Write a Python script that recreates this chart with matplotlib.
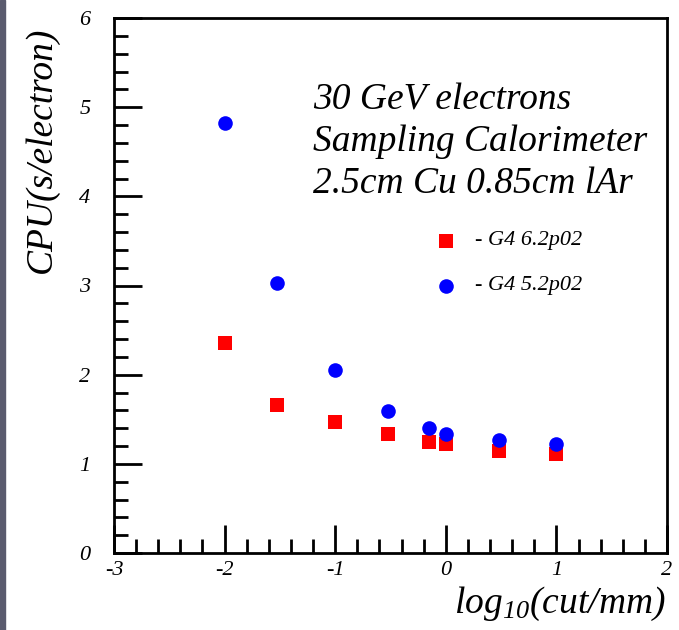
import numpy as np
import matplotlib
matplotlib.use('Agg')
from matplotlib import pyplot as plt
from matplotlib.patches import Rectangle
from matplotlib.ticker import MultipleLocator

# log10(cut/mm)
log_cut = [-2.0, -1.523, -1.0, -0.523, -0.155, 0.0, 0.477, 1.0]
cpu_g4_62 = [2.35, 1.66, 1.47, 1.33, 1.24, 1.22, 1.14, 1.11]
cpu_g4_52 = [4.82, 3.03, 2.05, 1.59, 1.40, 1.33, 1.27, 1.22]

plt.rcParams['font.family'] = ['Liberation Serif', 'DejaVu Serif']
plt.rcParams['axes.unicode_minus'] = False
plt.rcParams['mathtext.fontset'] = 'custom'
plt.rcParams['mathtext.it'] = 'Liberation Serif:italic'
plt.rcParams['mathtext.rm'] = 'Liberation Serif:italic'

fig = plt.figure(figsize=(6.79, 6.30), dpi=100)
ax = fig.add_axes([114/679, 1-553/630, (667-114)/679, (553-18)/630])

# grey strip at the left edge of the screenshot
fig.patches.append(Rectangle((0, 0), 5/679, 1, transform=fig.transFigure,
                             color='#5a5b6e', zorder=0))

ax.plot(log_cut, cpu_g4_62, 's', color='red', markersize=10, markeredgewidth=0)
ax.plot(log_cut, cpu_g4_52, 'o', color='blue', markersize=10.5, markeredgewidth=0)

ax.set_xlim(-3, 2)
ax.set_ylim(0, 6)
ax.xaxis.set_major_locator(MultipleLocator(1))
ax.xaxis.set_minor_locator(MultipleLocator(0.2))
ax.yaxis.set_major_locator(MultipleLocator(1))
ax.yaxis.set_minor_locator(MultipleLocator(0.2))
ax.tick_params(which='major', direction='in', length=20, width=2, top=False, right=False)
ax.tick_params(which='minor', direction='in', length=10, width=2, top=False, right=False)
ax.tick_params(axis='x', pad=6)
ax.tick_params(axis='y', pad=17)
for lab in ax.get_xticklabels() + ax.get_yticklabels():
    lab.set_fontstyle('italic')
    lab.set_fontsize(16)
for s in ax.spines.values():
    s.set_linewidth(2)

fig.text(42/679, 1-150/630, 'CPU(s/electron)', rotation=90, fontsize=27,
         fontstyle='italic', ha='center', va='center')
fig.text(666/679, 1-613/630, r'log$_{10}$(cut/mm)', fontsize=27,
         fontstyle='italic', ha='right', va='baseline')

ax.text(0.36, 0.768, '30 GeV electrons\nSampling Calorimeter\n2.5cm Cu 0.85cm lAr',
        transform=ax.transAxes, fontsize=27, fontstyle='italic', va='center',
        linespacing=1.28)

# legend drawn by hand like the original
ax.plot([0.0], [3.5], 's', color='red', markersize=10, markeredgewidth=0)
ax.plot([0.0], [3.0], 'o', color='blue', markersize=10.5, markeredgewidth=0)
ax.text(0.264, 3.5, '- G4 6.2p02', fontsize=16, fontstyle='italic', va='center')
ax.text(0.264, 3.0, '- G4 5.2p02', fontsize=16, fontstyle='italic', va='center')

fig.savefig('out.png', dpi=100)
